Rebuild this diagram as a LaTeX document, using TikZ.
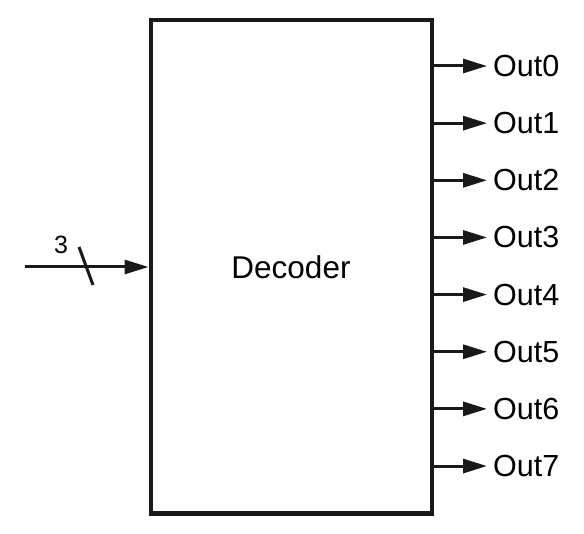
\documentclass[tikz,border=0pt]{standalone}
\usepackage{fontspec}
\setmainfont{Liberation Sans}
\usetikzlibrary{positioning, arrows.meta}
\tikzstyle{block} = [rectangle, minimum width=281pt, minimum height=493pt, text centered, draw=black!90, line width=4pt, font=\fontsize{31.5}{36}\selectfont]
\tikzstyle{outlabel} = [anchor=west, inner sep=6pt, font=\fontsize{30.5}{35}\selectfont]
\tikzstyle{arrow} = [-{Triangle[length=24pt,width=14pt]}, line width=3pt, draw=black!90]

\begin{document}
\begin{tikzpicture}[x=1pt, y=-1pt]
		\useasboundingbox (0,0) rectangle (584,534);
		%decoder block
		\node[block](dec) at (291,267){Decoder};
		%outputs
		\node[outlabel](out0) at (487,66){Out0};
		\node[outlabel, below of = out0, node distance=57.15pt](out1){Out1};
		\node[outlabel, below of = out1, node distance=57.15pt](out2){Out2};
		\node[outlabel, below of = out2, node distance=57.15pt](out3){Out3};
		\node[outlabel, below of = out3, node distance=57.15pt](out4){Out4};
		\node[outlabel, below of = out4, node distance=57.15pt](out5){Out5};
		\node[outlabel, below of = out5, node distance=57.15pt](out6){Out6};
		\node[outlabel, below of = out6, node distance=57.15pt](out7){Out7};
		%input
		\coordinate (in) at (25,267);
		\coordinate (slashtop) at (79,247);
		\coordinate (slashbot) at (93,285);
		\node[font=\fontsize{25}{30}\selectfont](width) at (61,245){3};
		%connections
		\draw [arrow] (in) -- (dec.west);
		\draw [line width=3pt, draw=black!90] (slashtop) -- (slashbot);
		\draw [arrow] (dec.east |- out0.west) -- (out0.west);
		\draw [arrow] (dec.east |- out1.west) -- (out1.west);
		\draw [arrow] (dec.east |- out2.west) -- (out2.west);
		\draw [arrow] (dec.east |- out3.west) -- (out3.west);
		\draw [arrow] (dec.east |- out4.west) -- (out4.west);
		\draw [arrow] (dec.east |- out5.west) -- (out5.west);
		\draw [arrow] (dec.east |- out6.west) -- (out6.west);
		\draw [arrow] (dec.east |- out7.west) -- (out7.west);

	\end{tikzpicture}
\end{document}
